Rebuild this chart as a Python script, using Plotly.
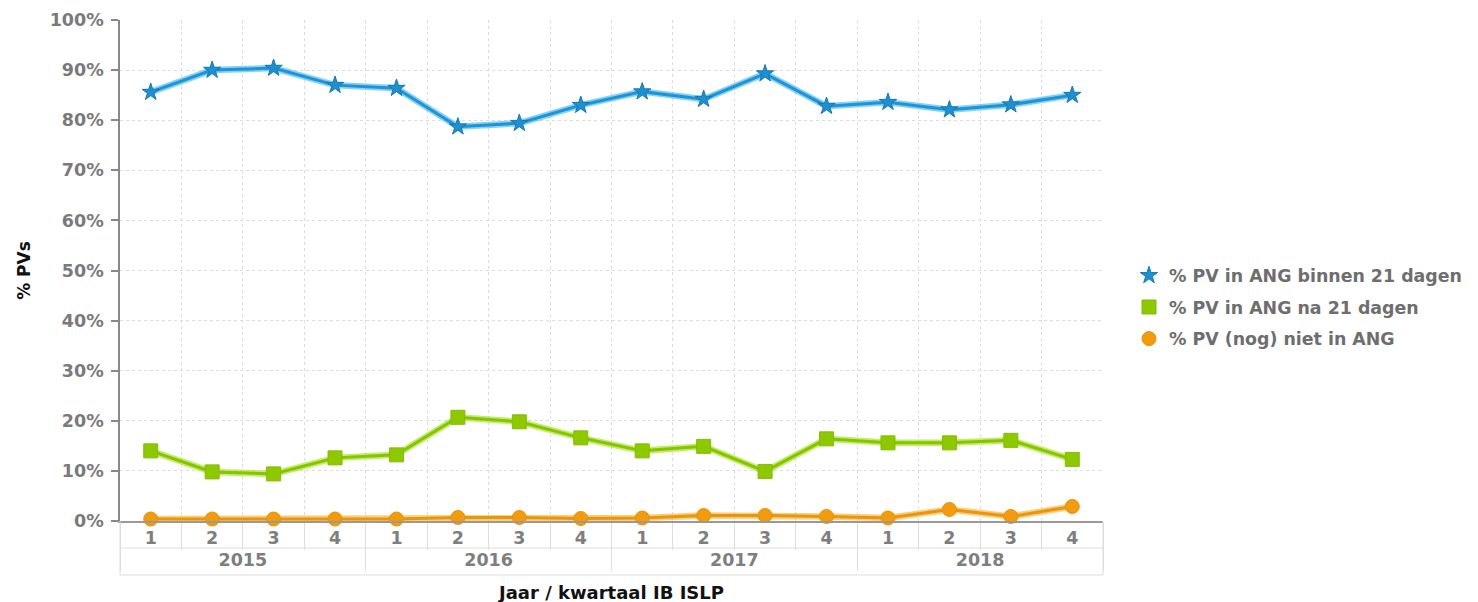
import plotly.graph_objects as go

# Categories: year / quarter
years = ["2015", "2016", "2017", "2018"]
quarters = ["1", "2", "3", "4"]

# Share of PVs (%) per quarter
binnen_21 = [85.6, 90.0, 90.4, 87.0, 86.4, 78.7, 79.4, 83.0,
             85.7, 84.2, 89.3, 82.8, 83.6, 82.1, 83.1, 85.0]
na_21 = [14.0, 9.8, 9.4, 12.6, 13.2, 20.7, 19.8, 16.6,
         14.0, 14.9, 9.9, 16.4, 15.6, 15.6, 16.1, 12.3]
niet_in = [0.4, 0.4, 0.4, 0.4, 0.4, 0.7, 0.7, 0.5,
           0.6, 1.1, 1.1, 0.9, 0.6, 2.3, 0.9, 2.9]

series_names = ["% PV in ANG binnen 21 dagen",
                "% PV in ANG na 21 dagen",
                "% PV (nog) niet in ANG"]

x = [[y for y in years for _ in quarters], [q for _ in years for q in quarters]]
n_cat = len(x[0])

FONT = "DejaVu Sans"

styles = [
    dict(vals=binnen_21, line="#1c94d6", halo="rgba(70,185,240,0.65)",
         symbol="star", size=13, fill="#1e90d0", edge="#1877b4"),
    dict(vals=na_21, line="#86c400", halo="rgba(170,228,40,0.7)",
         symbol="square", size=14, fill="#8ec800", edge="#84bc00"),
    dict(vals=niet_in, line="#ea960c", halo="rgba(248,185,70,0.7)",
         symbol="circle", size=14, fill="#f29b0c", edge="#e8920a"),
]

fig = go.Figure()

# line layers (soft halo + main line)
for st in styles:
    fig.add_trace(go.Scatter(x=x, y=st["vals"], mode="lines",
                             line=dict(color=st["halo"], width=6.5),
                             showlegend=False, hoverinfo="skip", cliponaxis=False))
    fig.add_trace(go.Scatter(x=x, y=st["vals"], mode="lines",
                             line=dict(color=st["line"], width=3),
                             showlegend=False, hoverinfo="skip", cliponaxis=False))

# marker layers (carry the legend entries)
for name, st in zip(series_names, styles):
    fig.add_trace(go.Scatter(x=x, y=st["vals"], mode="markers", name=name,
                             legendgroup=name, cliponaxis=False,
                             marker=dict(symbol=st["symbol"], size=st["size"],
                                         color=st["fill"],
                                         line=dict(color=st["edge"], width=1))))

grid = "#dcdcdc"
table = "#dddddd"

fig.update_layout(
    width=1478, height=602,
    margin=dict(l=120, r=374, t=20, b=81),
    paper_bgcolor="white", plot_bgcolor="white",
    font=dict(family=FONT, color="#777777", size=16, weight="bold"),
    showlegend=True,
    legend=dict(x=1.0254, xanchor="left", y=0.427, yanchor="middle",
                font=dict(family=FONT, size=17.4, color="#6e6e6e", weight="bold"),
                traceorder="grouped", tracegroupgap=6,
                borderwidth=0, bgcolor="rgba(0,0,0,0)"),
    xaxis=dict(
        type="multicategory",
        range=[-0.5, n_cat - 0.5],
        tickson="boundaries",
        ticks="outside", ticklen=27, tickcolor=table, tickwidth=1,
        showgrid=True, gridcolor=grid, griddash="dot", gridwidth=1,
        showline=True, linecolor="#999999", linewidth=1.5,
        showdividers=True, dividercolor=table, dividerwidth=1,
        tickfont=dict(family=FONT, size=17.5, color="#7e7e7e", weight="bold"),
        title=dict(text="Jaar / kwartaal IB ISLP", standoff=18,
                   font=dict(family=FONT, size=18, color="#111111", weight="bold")),
        automargin=False,
    ),
    yaxis=dict(
        range=[0, 100], dtick=10, ticksuffix="%",
        showgrid=True, gridcolor=grid, griddash="dot", gridwidth=1,
        zeroline=False,
        showline=True, linecolor="#888888", linewidth=1.5,
        ticks="outside", ticklen=7, tickcolor="#888888", tickwidth=1.5,
        ticklabelstandoff=4,
        tickfont=dict(family=FONT, size=17.5, color="#7a7a7a", weight="bold"),
        title=dict(text="% PVs", standoff=15,
                   font=dict(family=FONT, size=17, color="#111111", weight="bold")),
        automargin=False,
    ),
)

# cell borders of the category table below the plot
for yy in (-0.0539, -0.1078):
    fig.add_shape(type="line", xref="paper", yref="paper", x0=0, x1=1, y0=yy, y1=yy,
                  line=dict(color=table, width=1))
for xx in (0, 1):
    fig.add_shape(type="line", xref="paper", yref="paper", x0=xx, x1=xx, y0=0, y1=-0.1078,
                  line=dict(color=table, width=1))

fig.write_html("out.html")
